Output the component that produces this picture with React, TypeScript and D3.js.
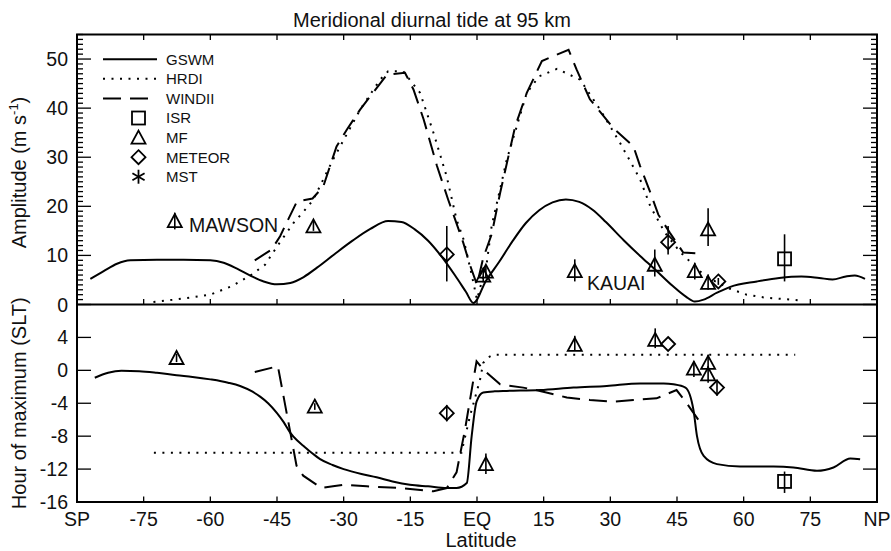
import React from "react";
import * as d3 from "d3";

// ---------- DATA ----------
const latTicks = [-90, -75, -60, -45, -30, -15, 0, 15, 30, 45, 60, 75, 90];
const latTickLabels = ["SP", "-75", "-60", "-45", "-30", "-15", "EQ", "15", "30", "45", "60", "75", "NP"];
const ampTicks = [0, 10, 20, 30, 40, 50];
const hourTicks = [4, 0, -4, -8, -12, -16];

// Amplitude (m/s) vs latitude
const gswmAmp: [number, number][] = [
  [-87, 5.2], [-84, 6.8], [-81, 8.3], [-78, 9.0], [-72, 9.1], [-66, 9.1], [-60, 9.0], [-57, 8.5],
  [-54, 7.3], [-51, 5.9], [-48, 4.7], [-45, 4.1], [-42, 4.4], [-39, 5.6], [-36, 7.5], [-32, 10.3],
  [-28, 13.0], [-24, 15.4], [-20, 17.0], [-17, 16.8], [-14, 15.3], [-11, 13.0], [-8, 9.8], [-5, 6.0],
  [-2.5, 2.6], [-0.8, 0.3], [2, 4.8], [5, 8.7], [8, 12.9], [11, 16.6], [14, 19.2], [17, 20.8],
  [20, 21.4], [23, 20.9], [26, 19.3], [29, 16.8], [33, 13.1], [36.7, 9.9], [40, 7.2], [44, 3.8],
  [47, 1.6], [49, 0.6], [51, 1.0], [54, 2.4], [57, 3.6], [63, 4.7], [68, 5.4], [73, 5.7],
  [77, 5.4], [80, 5.1], [83, 5.7], [85, 5.9], [87.3, 5.2],
];
const hrdiAmp: [number, number][] = [
  [-72.8, 0.5], [-68, 1.0], [-64.6, 1.4], [-60, 2.0], [-55, 3.8], [-51, 5.9], [-47.7, 8.1],
  [-44.7, 12.2], [-41.3, 16.6], [-38, 20.0], [-36.8, 21.4], [-32.4, 29.5], [-26.3, 39.7],
  [-21.8, 45.8], [-20, 47.5], [-16.6, 47.5], [-12.8, 43.1], [-9.8, 35], [-6.8, 26], [-4.6, 17.3],
  [-3, 13.2], [-1.2, 6.1], [0, 1.0], [2.2, 8.5], [3.3, 16], [6.7, 29.5], [11.2, 43.1], [14, 46.5],
  [18, 48], [23.2, 45.8], [27.7, 39.7], [32.2, 32.9], [36.7, 25.5], [39, 20], [42.3, 14.6],
  [45.7, 10.7], [49, 7.8], [51.3, 5.8], [56.9, 3.2], [60.7, 2.0], [64.8, 1.4], [70.8, 1.0], [73, 0.8],
];
const windiiAmp: [number, number][] = [
  [-50, 9.0], [-46.2, 11.2], [-44.3, 13.9], [-42.5, 17.3], [-40.5, 21.0], [-37, 21.6], [-34.6, 24],
  [-31.6, 32.2], [-29.3, 35.6], [-26.3, 39.7], [-20.3, 46.8], [-16.2, 47.2], [-14.3, 43.8],
  [-12, 37.7], [-9, 28.2], [-6.5, 21.4], [-3.1, 12.6], [-1.6, 8.1], [0, 4.0], [1.4, 9.5],
  [3.3, 14.3], [5.2, 22.7], [8.6, 36.3], [11.2, 43.1], [14.6, 49.6], [20.6, 51.9], [22.4, 47.9],
  [25.4, 41.8], [30.7, 35.9], [35.2, 32.2], [36.7, 28.2], [39, 22.8], [40.8, 18.3], [43.4, 14.6],
  [46.4, 10.6], [50.2, 10.4],
];

// Hour of maximum (SLT) vs latitude
const gswmHour: [number, number][] = [
  [-86, -0.9], [-83, -0.3], [-80, -0.05], [-76, -0.1], [-72, -0.3], [-67.6, -0.6], [-64, -0.8],
  [-60, -1.1], [-56, -1.5], [-53.3, -1.9], [-50.5, -2.6], [-48.8, -3.2], [-47, -4.0], [-45, -5.2],
  [-43.5, -6.3], [-42, -7.6], [-40.5, -8.5], [-39, -9.2], [-37, -10.1], [-35.3, -10.8],
  [-32.5, -11.5], [-30, -12.0], [-26, -12.6], [-22.6, -13.0], [-19, -13.5], [-15.1, -13.9],
  [-11, -14.1], [-6.8, -14.3], [-4.6, -14.3], [-2.3, -13.7], [-1.2, -8], [-0.1, -3.8], [1.4, -2.7],
  [4, -2.55], [6.7, -2.5], [14.2, -2.4], [21.7, -2.1], [29.2, -1.9], [36.7, -1.6], [42, -1.6],
  [44.2, -1.7], [46.9, -2.1], [48.7, -4.8], [49.5, -8], [51, -10.4], [54, -11.4], [59.2, -11.7],
  [66.7, -11.7], [71.2, -11.8], [76.5, -12.2], [80.2, -11.8], [84, -10.7], [86.2, -10.8],
];
const hrdiHour: [number, number][] = [
  [-72.7, -10], [-3.5, -10], [-1.6, -5.6], [0.7, -1.1], [1.4, 0.9], [2.6, 1.6], [3.7, 1.9], [71.6, 1.9],
];
const windiiHour: [number, number][] = [
  [-50, -0.2], [-44.8, 0.5], [-40.6, -11.6], [-39.1, -12.8], [-35, -14.3], [-32.4, -14.1],
  [-30, -13.9], [-24.8, -14.1], [-17.3, -14.3], [-9.8, -14.7], [-6.8, -14.3], [-4.6, -12.4],
  [-2.7, -7.2], [-0.8, -1.1], [-0.1, 1.1], [1.4, 0.1], [5.2, -1.7], [10.4, -2.1], [14.2, -2.5],
  [20.2, -3.3], [25.4, -3.6], [30.7, -3.8], [35.2, -3.6], [40.4, -3.4], [44.9, -2.4], [47.2, -4],
  [49.8, -6],
];

// Observations: [lat, value, low, high]
const isrAmp: number[][] = [[69.2, 9.3, 4.7, 14.3]];
const mfAmp: number[][] = [
  [-68, 17.0, 15.3, 18.7], [-36.8, 15.9, 15.0, 17.0], [1.4, 5.9, 4.5, 7.5], [2.0, 6.7, 5.5, 8.0],
  [22, 6.8, 4.7, 9.2], [40, 8.1, 5.7, 11.2], [49, 6.8, 5.1, 8.5], [52, 15.3, 11.9, 19.6], [52, 4.4, 3.0, 6.1],
];
const meteorAmp: number[][] = [[-6.8, 10.2, 4.7, 16.0], [43, 12.7, 10.2, 16.0], [54.3, 4.7, 4.0, 5.4]];

const isrHour: number[][] = [[69.2, -13.5, -14.9, -12.3]];
const mfHour: number[][] = [
  [-67.6, 1.5, 1.0, 2.0], [-36.5, -4.4, -4.8, -4.0], [2, -11.4, -12.6, -10.1], [22, 3.1, 2.4, 4.2],
  [40.1, 3.7, 2.7, 5.1], [48.8, 0.2, -0.8, 1.1], [52, 0.9, 0.0, 1.9], [52, -0.5, -1.5, 0.5],
];
const meteorHour: number[][] = [[-6.8, -5.2, -6.2, -4.2], [43, 3.2, 3.2, 3.2], [54, -2.1, -3.1, -1.1]];

const legendItems = ["GSWM", "HRDI", "WINDII", "ISR", "MF", "METEOR", "MST"];

// ---------- LAYOUT ----------
const W = 891, H = 551;
const L = 77, R = 877, T = 34.5, MID = 304.5, B = 502;
const FONT = "'Liberation Sans', Arial, Helvetica, sans-serif";
const DOT = "2 6.5";
const DASH = "18 9";

function Marker({ kind, cx, cy }: { kind: string; cx: number; cy: number }) {
  const sw = 1.8;
  if (kind === "square") return <rect x={cx - 6.5} y={cy - 6.5} width={13} height={13} fill="none" stroke="#000" strokeWidth={sw} />;
  if (kind === "triangle") return <path d={`M${cx},${cy - 7} L${cx + 7},${cy + 6} L${cx - 7},${cy + 6} Z`} fill="none" stroke="#000" strokeWidth={sw} strokeLinejoin="miter" />;
  if (kind === "diamond") return <path d={`M${cx},${cy - 7} L${cx + 7},${cy} L${cx},${cy + 7} L${cx - 7},${cy} Z`} fill="none" stroke="#000" strokeWidth={sw} />;
  // asterisk
  const r = 7;
  return (
    <g stroke="#000" strokeWidth={1.8}>
      <line x1={cx} y1={cy - r} x2={cx} y2={cy + r} />
      <line x1={cx - r * 0.87} y1={cy - r * 0.5} x2={cx + r * 0.87} y2={cy + r * 0.5} />
      <line x1={cx - r * 0.87} y1={cy + r * 0.5} x2={cx + r * 0.87} y2={cy - r * 0.5} />
    </g>
  );
}

export default function App() {
  const x = d3.scaleLinear().domain([-90, 90]).range([L, R]);
  const yA = d3.scaleLinear().domain([0, 55]).range([MID, T]);
  const yH = d3.scaleLinear().domain([-16, 8]).range([B, MID]);

  const smoothA = d3.line<[number, number]>().x(d => x(d[0])).y(d => yA(d[1])).curve(d3.curveMonotoneX);
  const linA = d3.line<[number, number]>().x(d => x(d[0])).y(d => yA(d[1]));
  const smoothH = d3.line<[number, number]>().x(d => x(d[0])).y(d => yH(d[1])).curve(d3.curveMonotoneX);
  const linH = d3.line<[number, number]>().x(d => x(d[0])).y(d => yH(d[1]));

  const minorA = d3.range(0, 56, 1);

  const obs = (rows: number[][], kind: string, ys: d3.ScaleLinear<number, number>, key: string) =>
    rows.map((r, i) => (
      <g key={key + i}>
        {r[2] !== r[3] && <line x1={x(r[0])} x2={x(r[0])} y1={ys(r[2])} y2={ys(r[3])} stroke="#000" strokeWidth={1.6} />}
        <Marker kind={kind} cx={x(r[0])} cy={ys(r[1])} />
      </g>
    ));

  return (
    <svg width={W} height={H} style={{ position: "absolute", left: 0, top: 0, background: "#fff" }} fontFamily={FONT}>
      <defs>
        <clipPath id="clipTop"><rect x={L} y={T} width={R - L} height={MID - T} /></clipPath>
        <clipPath id="clipBot"><rect x={L} y={MID} width={R - L} height={B - MID} /></clipPath>
      </defs>
      <rect width={W} height={H} fill="#fff" />

      <text x={432} y={26.5} fontSize={20} textAnchor="middle" fill="#111">Meridional diurnal tide at 95 km</text>

      {/* top panel ticks */}
      {minorA.map(v => {
        const major = v % 10 === 0;
        const len = major ? 14 : 6;
        return (
          <g key={"ma" + v} stroke="#000" strokeWidth={1.3}>
            <line x1={L} x2={L + len} y1={yA(v)} y2={yA(v)} />
            <line x1={R} x2={R - len} y1={yA(v)} y2={yA(v)} />
          </g>
        );
      })}
      {ampTicks.map(v => (
        <text key={"ta" + v} x={68} y={yA(v) + 7} fontSize={19.5} textAnchor="end" fill="#111">{v}</text>
      ))}
      {/* bottom panel ticks */}
      {hourTicks.map(v => (
        <g key={"th" + v}>
          <line x1={L} x2={L + 14} y1={yH(v)} y2={yH(v)} stroke="#000" strokeWidth={1.3} />
          <line x1={R} x2={R - 14} y1={yH(v)} y2={yH(v)} stroke="#000" strokeWidth={1.3} />
          <text x={68} y={yH(v) + 7} fontSize={19.5} textAnchor="end" fill="#111">{v}</text>
        </g>
      ))}
      {/* latitude ticks */}
      {latTicks.map((v, i) => (
        <g key={"tl" + v}>
          <line x1={x(v)} x2={x(v)} y1={T} y2={T + 5.5} stroke="#000" strokeWidth={1.3} />
          <line x1={x(v)} x2={x(v)} y1={MID} y2={MID - 5.5} stroke="#000" strokeWidth={1.3} />
          <line x1={x(v)} x2={x(v)} y1={B} y2={B - 5.5} stroke="#000" strokeWidth={1.3} />
          <text x={x(v)} y={526} fontSize={19.5} textAnchor="middle" fill="#111">{latTickLabels[i]}</text>
        </g>
      ))}

      {/* top panel curves */}
      <g clipPath="url(#clipTop)" fill="none" stroke="#000">
        <path d={smoothA(gswmAmp) || ""} strokeWidth={2} />
        <path d={linA(hrdiAmp) || ""} strokeWidth={2} strokeDasharray={DOT} />
        <path d={linA(windiiAmp) || ""} strokeWidth={2} strokeDasharray={DASH} />
      </g>
      {obs(isrAmp, "square", yA, "isrA")}
      {obs(mfAmp, "triangle", yA, "mfA")}
      {obs(meteorAmp, "diamond", yA, "metA")}
      <text x={189} y={231.5} fontSize={19.5} fill="#111">MAWSON</text>
      <text x={587} y={290} fontSize={19.5} fill="#111">KAUAI</text>

      {/* bottom panel curves */}
      <g clipPath="url(#clipBot)" fill="none" stroke="#000">
        <path d={smoothH(gswmHour) || ""} strokeWidth={2} />
        <path d={linH(hrdiHour) || ""} strokeWidth={2} strokeDasharray={DOT} />
        <path d={linH(windiiHour) || ""} strokeWidth={2} strokeDasharray={DASH} />
      </g>
      {obs(isrHour, "square", yH, "isrH")}
      {obs(mfHour, "triangle", yH, "mfH")}
      {obs(meteorHour, "diamond", yH, "metH")}

      {/* legend */}
      {legendItems.map((name, i) => {
        const cy = 59.3 + i * 19.57;
        let sym: React.ReactNode = null;
        if (i === 0) sym = <line x1={103} x2={157} y1={cy} y2={cy} stroke="#000" strokeWidth={2} />;
        else if (i === 1) sym = <line x1={103} x2={157} y1={cy} y2={cy} stroke="#000" strokeWidth={2} strokeDasharray={DOT} />;
        else if (i === 2) sym = <line x1={103} x2={157} y1={cy} y2={cy} stroke="#000" strokeWidth={2} strokeDasharray={DASH} />;
        else sym = <Marker kind={["square", "triangle", "diamond", "asterisk"][i - 3]} cx={138.5} cy={cy} />;
        return (
          <g key={"lg" + name}>
            {sym}
            <text x={166} y={cy + 5.4} fontSize={15} fill="#111">{name}</text>
          </g>
        );
      })}

      {/* frames */}
      <rect x={L} y={T} width={R - L} height={B - T} fill="none" stroke="#000" strokeWidth={2} />
      <line x1={L} x2={R} y1={MID} y2={MID} stroke="#000" strokeWidth={2} />

      {/* axis titles */}
      <text transform={`translate(26,${(T + MID) / 2 + 3}) rotate(-90)`} fontSize={20} textAnchor="middle" fill="#111">
        Amplitude (m s<tspan fontSize={13} dy={-8}>-1</tspan><tspan dy={8}>)</tspan>
      </text>
      <text transform={`translate(26,${(MID + B) / 2}) rotate(-90)`} fontSize={20} textAnchor="middle" fill="#111">
        Hour of maximum (SLT)
      </text>
      <text x={481} y={547} fontSize={20} textAnchor="middle" fill="#111">Latitude</text>
    </svg>
  );
}
